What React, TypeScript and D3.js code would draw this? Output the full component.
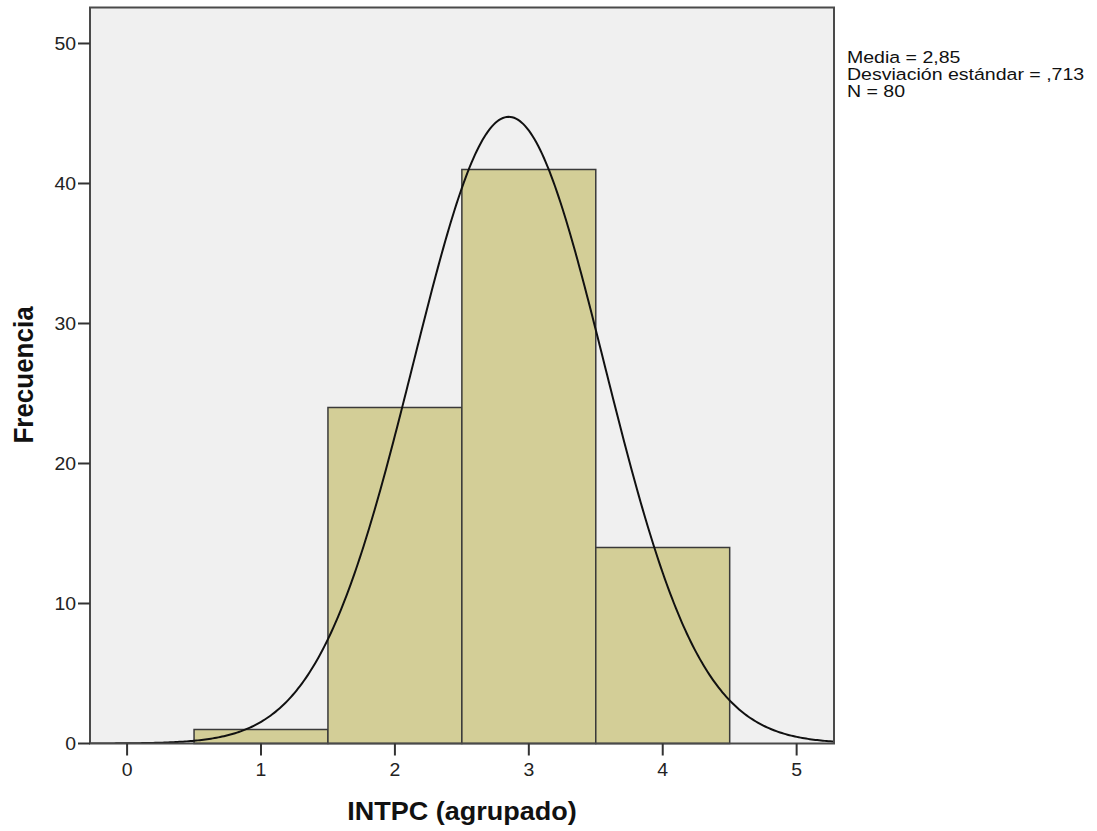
import React from "react";
import * as d3 from "d3";

const binStarts = [0.5, 1.5, 2.5, 3.5];
const binEnds = [1.5, 2.5, 3.5, 4.5];
const counts = [1, 24, 41, 14];
const xTicks = [0, 1, 2, 3, 4, 5];
const yTicks = [0, 10, 20, 30, 40, 50];
const statMean = 2.85;
const statSd = 0.713;
const statN = 80;
const statLines = ["Media = 2,85", "Desviación estándar = ,713", "N = 80"];
const xTitle = "INTPC (agrupado)";
const yTitle = "Frecuencia";

const W = 1097;
const H = 831;
const L = 90, R = 834, T = 7.5, B = 743.5;
const SX = 1.08;
const FONT = "Arial, 'Liberation Sans', Helvetica, sans-serif";

export default function App() {
  const x = d3.scaleLinear().domain([-0.277, 5.279]).range([L, R]);
  const y = d3.scaleLinear().domain([0, 52.57]).range([B, T]);
  const binW = 1;
  const pdf = (v: number) =>
    (statN * binW) / (statSd * Math.sqrt(2 * Math.PI)) *
    Math.exp(-0.5 * ((v - statMean) / statSd) ** 2);
  const [x0, x1] = x.domain();
  const pts: [number, number][] = d3.range(0, 401).map((i) => {
    const v = x0 + ((x1 - x0) * i) / 400;
    return [v, pdf(v)];
  });
  const line = d3.line<[number, number]>().x((d) => x(d[0])).y((d) => y(d[1])).curve(d3.curveLinear);

  const stretched = (tx: number, ty: number, s = SX) => `translate(${tx},${ty}) scale(${s},1)`;

  return (
    <svg
      width={W}
      height={H}
      style={{ position: "absolute", left: 0, top: 0, background: "#fff" }}
      fontFamily={FONT}
    >
      <defs>
        <clipPath id="plotclip">
          <rect x={L} y={T} width={R - L} height={B - T} />
        </clipPath>
      </defs>
      <rect x={L} y={T} width={R - L} height={B - T} fill="#f0f0f0" />
      {counts.map((c, i) => (
        <rect
          key={i}
          x={x(binStarts[i])}
          y={y(c)}
          width={x(binEnds[i]) - x(binStarts[i])}
          height={y(0) - y(c)}
          fill="#d3ce97"
          stroke="#3a3a3a"
          strokeWidth={1.5}
        />
      ))}
      <path d={line(pts) || ""} fill="none" stroke="#111" strokeWidth={2} clipPath="url(#plotclip)" />
      <rect x={L} y={T} width={R - L} height={B - T} fill="none" stroke="#4a4a4a" strokeWidth={2} />
      {yTicks.map((t) => (
        <g key={"y" + t}>
          <line x1={L - 12} x2={L} y1={y(t)} y2={y(t)} stroke="#333" strokeWidth={2} />
          <text transform={stretched(76, y(t) + 6.5)} textAnchor="end" fontSize={18} fill="#222">
            {t}
          </text>
        </g>
      ))}
      {xTicks.map((t) => (
        <g key={"x" + t}>
          <line x1={x(t)} x2={x(t)} y1={B} y2={B + 12} stroke="#333" strokeWidth={2} />
          <text transform={stretched(x(t), 776)} textAnchor="middle" fontSize={18} fill="#222">
            {t}
          </text>
        </g>
      ))}
      <text transform={stretched((L + R) / 2, 820)} textAnchor="middle" fontSize={25} fontWeight="bold" fill="#111">
        {xTitle}
      </text>
      <text
        transform={`translate(33,375) rotate(-90) scale(1,${SX})`}
        textAnchor="middle"
        fontSize={26}
        fontWeight="bold"
        fill="#111"
      >
        {yTitle}
      </text>
      {statLines.map((s, i) => (
        <text key={i} transform={stretched(847, 63 + i * 17, 1.15)} fontSize={17} fill="#111">
          {s}
        </text>
      ))}
    </svg>
  );
}
